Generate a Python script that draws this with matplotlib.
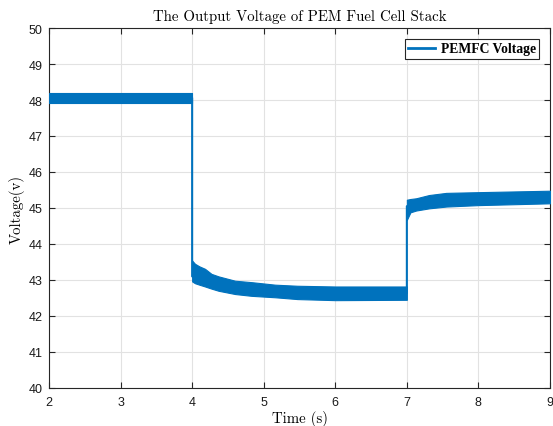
import matplotlib.pyplot as plt

# envelope of the ripple band (time in s, voltage in V)
t_seg1 = [2.0, 4.0]
hi_seg1 = [48.20, 48.20]
lo_seg1 = [47.92, 47.92]

t_seg2 = [4.0, 4.04, 4.1, 4.18, 4.27, 4.37, 4.6, 4.83, 5.16, 5.47, 6.0, 7.0]
hi_seg2 = [43.54, 43.45, 43.38, 43.31, 43.17, 43.10, 42.98, 42.94, 42.87, 42.84, 42.82, 42.82]
lo_seg2 = [42.96, 42.91, 42.87, 42.82, 42.76, 42.70, 42.61, 42.56, 42.52, 42.47, 42.44, 42.45]

t_seg3 = [7.0, 7.05, 7.13, 7.31, 7.55, 8.0, 9.0]
hi_seg3 = [45.23, 45.25, 45.27, 45.36, 45.42, 45.44, 45.48]
lo_seg3 = [44.67, 44.88, 44.93, 44.99, 45.04, 45.08, 45.13]

# the mean voltage trace, including the two load steps
t_mean = [2.0, 4.0, 4.0, 5.0, 7.0, 7.0, 8.0, 9.0]
v_mean = [48.06, 48.06, 43.10, 42.69, 42.63, 45.05, 45.26, 45.30]

xticks = [2, 3, 4, 5, 6, 7, 8, 9]
yticks = [40, 41, 42, 43, 44, 45, 46, 47, 48, 49, 50]

blue = '#0072BD'

fig = plt.figure(figsize=(5.53, 4.27), dpi=100)
ax = fig.add_axes([49/553, 1-389/427, 501/553, 360/427])

ax.plot(t_mean, v_mean, color=blue, lw=1.5, label='PEMFC Voltage', zorder=3)
for t, lo, hi in [(t_seg1, lo_seg1, hi_seg1), (t_seg2, lo_seg2, hi_seg2), (t_seg3, lo_seg3, hi_seg3)]:
    ax.fill_between(t, lo, hi, color=blue, lw=0.8, edgecolor=blue, zorder=3)

ax.set_xlim(2, 9)
ax.set_ylim(40, 50)
ax.set_xticks(xticks)
ax.set_yticks(yticks)
ax.grid(True, color='#e2e2e2', lw=0.8)
ax.set_axisbelow(True)
ax.tick_params(direction='in', top=True, right=True, length=4, width=0.8,
               labelsize=9, colors='#262626', labelcolor='#1a1a1a')
ax.tick_params(axis='x', pad=6)
ax.tick_params(axis='y', pad=4.5)
for lab in ax.get_xticklabels() + ax.get_yticklabels():
    lab.set_fontfamily('Liberation Sans')
for s in ax.spines.values():
    s.set_color('#262626')
    s.set_linewidth(0.8)

ax.set_title('The Output Voltage of PEM Fuel Cell Stack', fontfamily='cmr10',
             fontsize=10.7, pad=6)
ax.set_xlabel('Time (s)', fontfamily='cmr10', fontsize=10.7, labelpad=1)
ax.set_ylabel('Voltage(v)', fontfamily='cmr10', fontsize=10.7, labelpad=3)

leg = ax.legend(loc='upper right', prop={'family': 'Liberation Serif', 'weight': 'bold', 'size': 9.8},
                fancybox=False, framealpha=1, edgecolor='#262626', handlelength=2.0,
                borderaxespad=0.8, borderpad=0.25, handletextpad=0.4)
leg.get_frame().set_linewidth(0.8)
leg.get_lines()[0].set_linewidth(2)

fig.savefig('out.png', dpi=100)
